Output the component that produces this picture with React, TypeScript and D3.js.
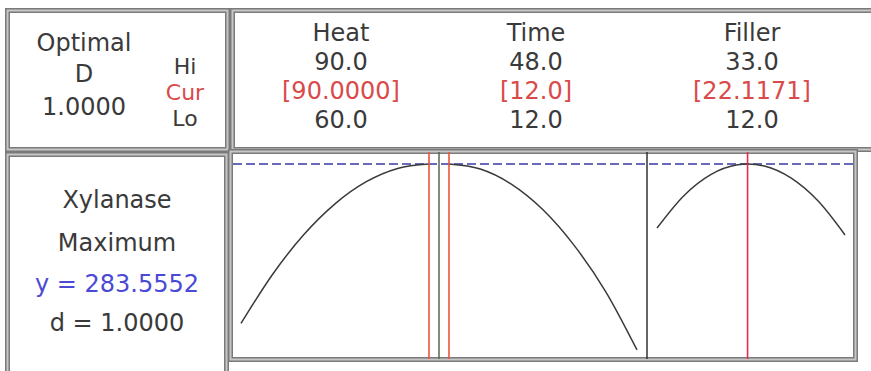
import React from "react";
import * as d3 from "d3";

// Factor settings
const factorNames = ["Heat", "Time", "Filler"];
const factorHi = [90.0, 48.0, 33.0];
const factorLo = [60.0, 12.0, 12.0];
const factorCur = [90.0, 12.0, 22.1171];
const hiLabels = ["90.0", "48.0", "33.0"];
const loLabels = ["60.0", "12.0", "12.0"];
const curLabels = ["[90.0000]", "[12.0]", "[22.1171]"];

// Predicted response across each factor (others held at current setting)
const heatX = [60, 65, 70, 75, 80, 85, 90];
const heatY = [177.6, 210.0, 236.5, 257.1, 271.8, 280.6, 283.5552];
const timeX = [12, 18, 24, 30, 36, 42, 48];
const timeY = [283.5552, 280.2, 270.0, 253.1, 229.3, 198.8, 160.0];
const fillerX = [12, 15, 18, 21, 22.1171, 24, 27, 30, 33];
const fillerY = [241.0, 262.5, 276.5, 283.0, 283.5552, 282.2, 274.1, 258.9, 236.4];

const responseName = "Xylanase";
const goal = "Maximum";
const predicted = 283.5552;
const desirability = 1.0;
const yDomain = [154.65, 290.86];

const W = 871;
const H = 371;
const FONT = "'DejaVu Sans', sans-serif";
const TXT = "#3a3a3a";
const RED = "#d94a4a";
const BLUE = "#4a4ad6";

function Box({ x0, y0, x1, y1 }: { x0: number; y0: number; x1: number; y1: number }) {
  return (
    <g>
      <rect x={x0 + 2.5} y={y0 + 2.5} width={x1 - x0 - 5} height={y1 - y0 - 5} fill="none" stroke="#7a7a7a" strokeWidth={5} />
      <rect x={x0 + 2.5} y={y0 + 2.5} width={x1 - x0 - 5} height={y1 - y0 - 5} fill="none" stroke="#c6c6c6" strokeWidth={2} />
    </g>
  );
}

export default function App() {
  const plotL = 231;
  const plotR = 855;
  const plotT = 152;
  const plotB = 359;
  const panelW = (plotR - plotL) / 3;
  const pad = 10;

  const y = d3.scaleLinear().domain(yDomain).range([plotB - 1, plotT + 1]);

  const series = [
    { xs: heatX, ys: heatY },
    { xs: timeX, ys: timeY },
    { xs: fillerX, ys: fillerY },
  ];

  const colCenters = [341, 536, 752];

  return (
    <div style={{ position: "absolute", left: 0, top: 0 }}>
      <svg width={W} height={H} style={{ display: "block", background: "#fff" }} fontFamily={FONT}>
        <rect x={0} y={0} width={W} height={H} fill="#fff" />

        {/* summary boxes */}
        <Box x0={5} y0={8} x1={230} y1={152} />
        <Box x0={230} y0={8} x1={876} y1={152} />
        <Box x0={5} y0={152} x1={229} y1={385} />

        {/* top-left: overall desirability */}
        <g fontSize={24} fill={TXT} textAnchor="middle">
          <text x={84} y={51}>Optimal</text>
          <text x={84} y={82}>D</text>
          <text x={84} y={115}>1.0000</text>
        </g>
        <g fontSize={22} fill={TXT} textAnchor="middle">
          <text x={185} y={74}>Hi</text>
          <text x={185} y={100} fill={RED}>Cur</text>
          <text x={185} y={126}>Lo</text>
        </g>

        {/* factor columns */}
        <g fontSize={24} fill={TXT} textAnchor="middle">
          {factorNames.map((n, i) => (
            <g key={n}>
              <text x={colCenters[i]} y={41}>{n}</text>
              <text x={colCenters[i]} y={70}>{hiLabels[i]}</text>
              <text x={colCenters[i]} y={99} fill={RED}>{curLabels[i]}</text>
              <text x={colCenters[i]} y={128}>{loLabels[i]}</text>
            </g>
          ))}
        </g>

        {/* response summary */}
        <g fontSize={24} fill={TXT} textAnchor="middle">
          <text x={117} y={208}>{responseName}</text>
          <text x={117} y={251}>{goal}</text>
          <text x={117} y={292} fill={BLUE}>y = {predicted.toFixed(4)}</text>
          <text x={117} y={331}>d = {desirability.toFixed(4)}</text>
        </g>

        {/* plot panels */}
        <Box x0={228} y0={149} x1={858} y1={362} />
        <rect x={plotL + 2} y={plotT + 2} width={plotR - plotL - 4} height={plotB - plotT - 4} fill="#fff" />

        {/* target response level */}
        <line x1={plotL + 2} x2={plotR - 2} y1={y(predicted)} y2={y(predicted)} stroke="#3a3aa8" strokeWidth={1.7} strokeDasharray="9,4" />

        {series.map((s, i) => {
          const x0 = plotL + i * panelW;
          const x = d3.scaleLinear().domain([factorLo[i], factorHi[i]]).range([x0 + pad, x0 + panelW - pad]);
          const line = d3
            .line<number>()
            .x((_, k) => x(s.xs[k]))
            .y((v) => y(v))
            .curve(d3.curveMonotoneX);
          return (
            <g key={i}>
              {i > 0 && (
                <line x1={x0} x2={x0} y1={plotT} y2={plotB} stroke={i === 1 ? "#55684c" : "#333"} strokeWidth={1.5} />
              )}
              <path d={line(s.ys) || ""} fill="none" stroke="#3a3a3a" strokeWidth={1.5} />
              <line x1={x(factorCur[i])} x2={x(factorCur[i])} y1={plotT} y2={plotB} stroke={i === 2 ? "#e0304a" : "#e8563c"} strokeWidth={1.6} />
            </g>
          );
        })}
      </svg>
    </div>
  );
}
